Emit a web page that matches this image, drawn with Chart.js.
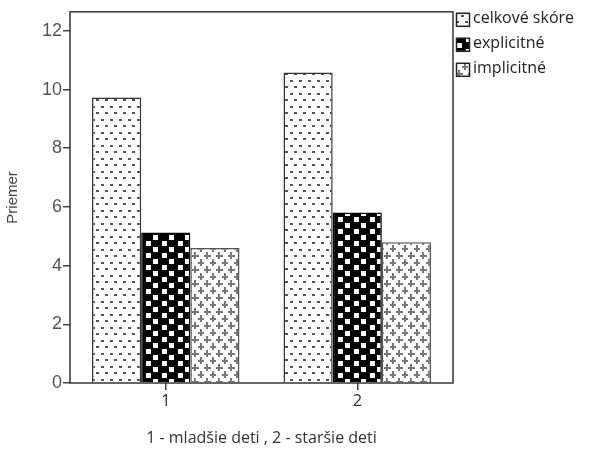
<!DOCTYPE html>
<html>
<head>
<meta charset="utf-8">
<script src="https://cdn.jsdelivr.net/npm/chart.js@4"></script>
<style>
  html, body { margin: 0; padding: 0; background: #fff; }
  #wrap { width: 596px; height: 452px; position: relative; }
</style>
</head>
<body>
<div id="wrap"><canvas id="chart" width="596" height="452"></canvas></div>
<script>
// ===== DATA =====
const categories = ["1", "2"];
const seriesNames = ["celkové skóre", "explicitné", "implicitné"];
const celkove = [9.73, 10.58];
const explicitne = [5.13, 5.81];
const implicitne = [4.6, 4.8];
const yTicks = [0, 2, 4, 6, 8, 10, 12];
const xTitle = "1 - mladšie deti , 2 - staršie deti";
const yTitle = "Priemer";

// ===== PATTERNS =====
function makeTile(w, h, draw) {
  const c = document.createElement("canvas");
  c.width = w;
  c.height = h;
  const g = c.getContext("2d");
  draw(g);
  return document.createElement("canvas").getContext("2d").createPattern(c, "repeat");
}

const dotPattern = makeTile(9, 13, g => {
  g.fillStyle = "#fff";
  g.fillRect(0, 0, 9, 13);
  g.fillStyle = "#555";
  g.fillRect(2, 2, 3, 2);
  g.fillRect(6, 8, 3, 2);
});

const checkPattern = makeTile(16, 12, g => {
  g.fillStyle = "#000";
  g.fillRect(0, 0, 16, 12);
  g.fillStyle = "#fff";
  g.fillRect(2, 1, 5, 5);
  g.fillRect(9, 7, 5, 5);
});

const plusPattern = makeTile(12, 14, g => {
  g.fillStyle = "#fff";
  g.fillRect(0, 0, 12, 14);
  g.fillStyle = "#777";
  g.fillRect(0, 3, 7, 2);
  g.fillRect(2, 0, 2, 7);
  g.fillRect(6, 10, 7, 2);
  g.fillRect(8, 7, 2, 7);
});

const fills = [dotPattern, checkPattern, plusPattern];
const borders = ["#333", "#000", "#555"];

// ===== PLUGINS =====
const frame = {
  id: "frame",
  afterDatasetsDraw(chart) {
    const { ctx, chartArea: a } = chart;
    ctx.save();
    ctx.strokeStyle = "#333";
    ctx.lineWidth = 1.5;
    ctx.strokeRect(a.left, a.top, a.right - a.left, a.bottom - a.top);
    ctx.restore();
  }
};

const sideLegend = {
  id: "sideLegend",
  afterDraw(chart) {
    const { ctx, chartArea: a } = chart;
    ctx.save();
    ctx.font = "16px 'Open Sans'";
    ctx.textBaseline = "middle";
    chart.data.datasets.forEach((ds, i) => {
      const x = a.right + 3;
      const y = a.top + 1 + i * 25;
      ctx.fillStyle = ds.backgroundColor;
      ctx.fillRect(x, y, 13, 13);
      ctx.strokeStyle = "#222";
      ctx.lineWidth = 1.5;
      ctx.strokeRect(x + 0.5, y + 0.5, 13, 13);
      ctx.fillStyle = "#222";
      ctx.fillText(ds.label, x + 17, y + 6);
    });
    ctx.restore();
  }
};

// ===== CHART =====
const values = [celkove, explicitne, implicitne];

new Chart(document.getElementById("chart"), {
  type: "bar",
  data: {
    labels: categories,
    datasets: seriesNames.map((name, i) => ({
      label: name,
      data: values[i],
      backgroundColor: fills[i],
      borderColor: borders[i],
      borderWidth: 1.5,
      borderSkipped: "bottom",
      categoryPercentage: 0.77,
      barPercentage: 1
    }))
  },
  options: {
    responsive: false,
    animation: false,
    layout: { padding: { top: 9, right: 143, left: 0, bottom: 0 } },
    plugins: {
      legend: { display: false },
      tooltip: { enabled: false }
    },
    scales: {
      x: {
        grid: {
          offset: false,
          drawOnChartArea: false,
          drawTicks: true,
          tickLength: 7,
          tickColor: "#444",
          lineWidth: 1.5
        },
        border: { display: false },
        ticks: {
          color: "#333",
          font: { family: "'Open Sans'", size: 17 },
          padding: 1
        },
        title: {
          display: true,
          text: xTitle,
          color: "#333",
          font: { family: "'Open Sans'", size: 16 },
          padding: { top: 6 }
        },
        afterFit(scale) { scale.height = 69; }
      },
      y: {
        min: 0,
        max: 12.65,
        afterBuildTicks(axis) {
          axis.ticks = yTicks.map(v => ({ value: v }));
        },
        grid: {
          drawOnChartArea: false,
          drawTicks: true,
          tickLength: 7,
          tickColor: "#444",
          lineWidth: 1.5
        },
        border: { display: false },
        ticks: {
          color: "#555",
          font: { family: "'Liberation Sans'", size: 18 },
          padding: 1
        },
        title: {
          display: true,
          text: yTitle,
          color: "#444",
          font: { family: "'Liberation Sans'", size: 15 },
          padding: { bottom: 6 }
        },
        afterFit(scale) { scale.width = 70; }
      }
    }
  },
  plugins: [frame, sideLegend]
});
</script>
</body>
</html>
